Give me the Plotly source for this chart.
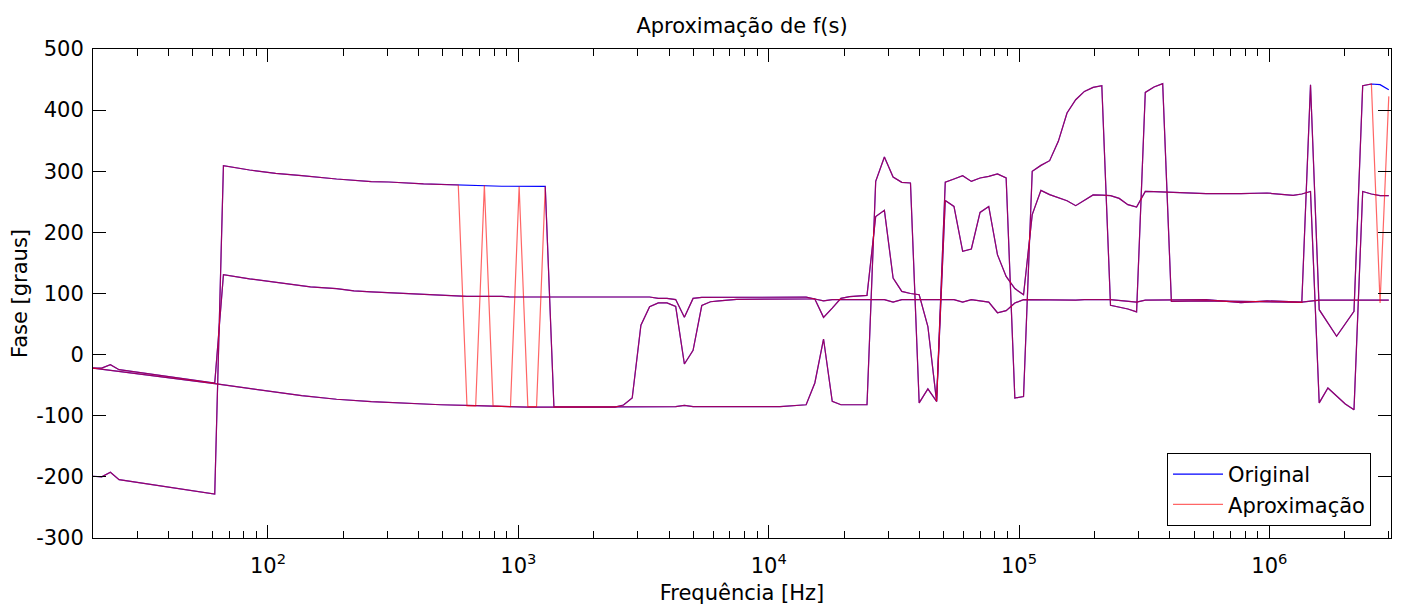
import math
import plotly.graph_objects as go

# ---------------- data (frequency in Hz, phase in degrees) ----------------
orig_a_freq = [20, 21.67, 23.47, 25.42, 61.28, 66.38, 84.4, 107.3, 136.4, 147.7, 187.8,
               258.6, 303.5, 417.9, 575.5, 731.7, 858.6, 1280.7, 1387.3, 2428.6,
               4251.2, 4605.3, 4988.7, 11100, 13027, 14111, 15286, 16559, 17938, 19432,
               24700, 26757, 28985, 31399, 34012, 36844, 39912, 43236, 46837, 50735,
               54960, 59537, 64495, 69866, 75681, 81983, 88811, 96207, 104218,
               112893, 122296, 132480, 143512, 155463, 168404, 182429, 197621, 214078,
               231906, 251212, 272132, 294794, 319344, 345938, 374734, 405941,
               559019, 769871, 978730, 1243700, 1347300, 1459500, 1581100, 1855400,
               2177300, 2358600, 2555000, 2767600, 2998200]
orig_a_phase = [-199, -200, -192.5, -204.5, -228, 309, 302, 296.5, 293, 291.6, 287.3,
                283, 282.4, 279.2, 277.5, 276.9, 275.5, 275.2, -85.6, -85.5,
                -85, -83, -85, -85, -83.5, -82, -46.4, 25.5, -76.5, -82,
                -82, 283.4, 323.3, 290.6, 281.8, 280.8, -79, -56, -76.5, 282,
                287.4, 292.7, 283.4, 289, 291.6, 295.5, 289, -71, -68.5,
                300, 309.6, 317.3, 348.9, 395.3, 417, 430.6, 437.2, 440,
                80.6, 78, 74.7, 70, 429, 437.8, 443.2, 87.2,
                88, 87, 86, 85, 85.5, 441.6, 73.5, 30,
                70.8, 440, 442.7, 441.6, 433.4]

orig_b_freq = [20, 21.67, 23.47, 25.42, 61.28, 66.38, 84.4, 107.3, 147.7, 187.8, 220.4,
               258.6, 328.7, 417.9, 531.3, 623.5, 858.6, 930.1, 3344.4, 3622.8, 3924.4,
               4251.2, 4605.3, 4988.7, 5404.2, 14111, 15286, 16559, 17938, 19432,
               21049, 22801, 24700, 26757, 28985, 31399, 34012, 36844, 39912, 43236,
               46837, 50735, 54960, 59537, 64495, 69866, 75681, 81983, 88811, 96207,
               104218, 112893, 122296, 132480, 143512, 155463, 168404, 182429, 197621,
               214078, 231906, 251212, 272132, 294794, 319344, 345938, 405941, 476388,
               559019, 769871, 978730, 1243700, 1347300, 1459500, 1581100, 1712800,
               1855400, 2009900, 2177300, 2358600, 2555000, 2767600, 2998200]
orig_b_phase = [-22, -22, -16.4, -24.6, -46.4, 130.8, 124, 118.8, 110.7, 108, 104.4,
                102.5, 100.8, 98, 96.9, 95.3, 95.3, 94.3, 94.3, 92, 92,
                90, 61, 92, 93.7, 94, 91, 61, 76, 92,
                95, 96.5, 97, 226, 236, 125.4, 103.5, 100, 98, 46,
                -76.5, 252.3, 242.5, 169, 172.8, 232.7, 242.5, 163.5, 128, 108,
                98, 229, 268.7, 261.7, 256.2, 251.8, 243.7, 251.8, 261.2,
                261, 260, 255.6, 245.3, 241.5, 267, 266.6, 265.4, 265.4,
                263.3, 263.3, 264.4, 260.5, 262.8, 267, -79, -54.6,
                -68.3, -80.7, -90, 267, 262.8, 260, 260]

orig_c_freq = [20, 61.28, 136.4, 187.8, 258.6, 356.1, 490.4, 675.4, 858.6, 1091.3,
               2428.6, 2630.8, 2849.9, 3087.3, 3344.4, 3622.8, 3924.4, 4251.2, 4605.3,
               4988.7, 5404.2, 5854.0, 6341.5, 7441.9, 14111, 15286, 16559, 17938,
               28985, 31399, 34012, 54960, 59537, 64495, 69866, 75681, 81983, 88811,
               96207, 104218, 168404, 182429, 231906, 294794, 319344, 559019, 769871,
               978730, 1347300, 1581100, 2998200]
orig_c_phase = [-22, -47.5, -67, -73, -77, -80, -82, -83.5, -84.6, -86,
                -86, -82.4, -71, 48, 78.5, 84.5, 84.5, 79, -15.3,
                7, 80.3, 86.5, 88, 90.5, 91, 91, 88, 90,
                90, 86, 90, 90, 86, 90, 88, 86, 68.5, 72,
                84.5, 90, 89, 90, 90, 86, 89, 90, 85,
                88, 86, 89, 89]

approx_a_freq = [20, 21.67, 23.47, 25.42, 61.28, 66.38, 84.4, 107.3, 136.4, 147.7, 187.8,
                 258.6, 303.5, 417.9, 575.5, 623.5, 675.4, 731.7, 792.6, 858.6, 930.1,
                 1007.4, 1091.3, 1182.2, 1280.7, 1387.3, 2428.6,
                 4251.2, 4605.3, 4988.7, 11100, 13027, 14111, 15286, 16559, 17938, 19432,
                 24700, 26757, 28985, 31399, 34012, 36844, 39912, 43236, 46837, 50735,
                 54960, 59537, 64495, 69866, 75681, 81983, 88811, 96207, 104218,
                 112893, 122296, 132480, 143512, 155463, 168404, 182429, 197621, 214078,
                 231906, 251212, 272132, 294794, 319344, 345938, 374734, 405941,
                 559019, 769871, 978730, 1243700, 1347300, 1459500, 1581100, 1855400,
                 2177300, 2358600, 2555000, 2767600, 2998200]
approx_a_phase = [-199, -200, -192.5, -204.5, -228, 309, 302, 296.5, 293, 291.6, 287.3,
                  283, 282.4, 279.2, 277.5, -84, -84, 277, -84, -84.6, -85,
                  275, -85, -85, 275, -85.6, -85.5,
                  -85, -83, -85, -85, -83.5, -82, -46.4, 25.5, -76.5, -82,
                  -82, 283.4, 323.3, 290.6, 281.8, 280.8, -79, -56, -76.5, 282,
                  287.4, 292.7, 283.4, 289, 291.6, 295.5, 289, -71, -68.5,
                  300, 309.6, 317.3, 348.9, 395.3, 417, 430.6, 437.2, 440,
                  80.6, 78, 74.7, 70, 429, 437.8, 443.2, 87.2,
                  88, 87, 86, 85, 85.5, 441.6, 73.5, 30,
                  70.8, 440, 442.7, 84.5, 422.5]

# the approximation coincides with the original on the other two curves
approx_b_freq, approx_b_phase = orig_b_freq, orig_b_phase
approx_c_freq, approx_c_phase = orig_c_freq, orig_c_phase

major_ticks = [1e2, 1e3, 1e4, 1e5, 1e6]
major_text = ["10<sup>2</sup>", "10<sup>3</sup>", "10<sup>4</sup>", "10<sup>5</sup>", "10<sup>6</sup>"]
y_ticks = [-300, -200, -100, 0, 100, 200, 300, 400, 500]
y_text = ["-300", "-200", "-100", "0", "100", "200", "300", "400", "500"]
minor_ticks = [k * 10 ** e for e in range(1, 7) for k in range(2, 10) if 20 < k * 10 ** e < 3.06e6]

# ---------------- figure ----------------
fig = go.Figure()
orig = [(orig_a_freq, orig_a_phase), (orig_b_freq, orig_b_phase), (orig_c_freq, orig_c_phase)]
approx = [(approx_a_freq, approx_a_phase), (approx_b_freq, approx_b_phase), (approx_c_freq, approx_c_phase)]

for k, (f, p) in enumerate(orig):
    fig.add_trace(go.Scatter(x=f, y=p, mode="lines", name="Original", legendgroup="o",
                             showlegend=(k == 0), line=dict(color="#0000ff", width=1.2)))
for k, (f, p) in enumerate(approx):
    fig.add_trace(go.Scatter(x=f, y=p, mode="lines", name="Aproximação", legendgroup="a",
                             showlegend=(k == 0), opacity=0.6,
                             line=dict(color="#ff0000", width=1.2)))

axis_common = dict(ticks="inside", ticklen=13, tickwidth=1, tickcolor="black",
                   showline=True, linecolor="black", linewidth=1, mirror="ticks",
                   showgrid=False, zeroline=False, automargin=False,
                   tickfont=dict(size=21, color="black"))

fig.update_layout(
    width=1408, height=606,
    margin=dict(l=93, r=17, t=49, b=68, autoexpand=False),
    paper_bgcolor="white", plot_bgcolor="white",
    font=dict(family="DejaVu Sans", size=21, color="black"),
    title=dict(text="Aproximação de f(s)", x=0.5, xref="paper", xanchor="center",
               y=1 - 26 / 606, yref="container", yanchor="middle",
               font=dict(size=21, color="black")),
    xaxis=dict(type="log", range=[math.log10(20), math.log10(3.06e6)],
               tickmode="array", tickvals=major_ticks, ticktext=major_text,
               ticklabelstandoff=9,
               minor=dict(tickmode="array", tickvals=minor_ticks, ticks="inside",
                          ticklen=7, tickwidth=1, tickcolor="black", showgrid=False),
               title=dict(text="Frequência [Hz]", standoff=8, font=dict(size=21)),
               **axis_common),
    yaxis=dict(range=[-300, 500], tickmode="array", tickvals=y_ticks, ticktext=y_text,
               ticklabelstandoff=4,
               title=dict(text="Fase [graus]", standoff=2, font=dict(size=21)),
               **axis_common),
    legend=dict(x=0.9846, y=0.0245, xanchor="right", yanchor="bottom",
                bgcolor="white", bordercolor="black", borderwidth=1,
                tracegroupgap=0, itemwidth=50, font=dict(size=21, color="black")),
    showlegend=True,
)

fig.write_html("out.html", config={"displayModeBar": False},
               post_script="document.body.style.margin='0px';")
